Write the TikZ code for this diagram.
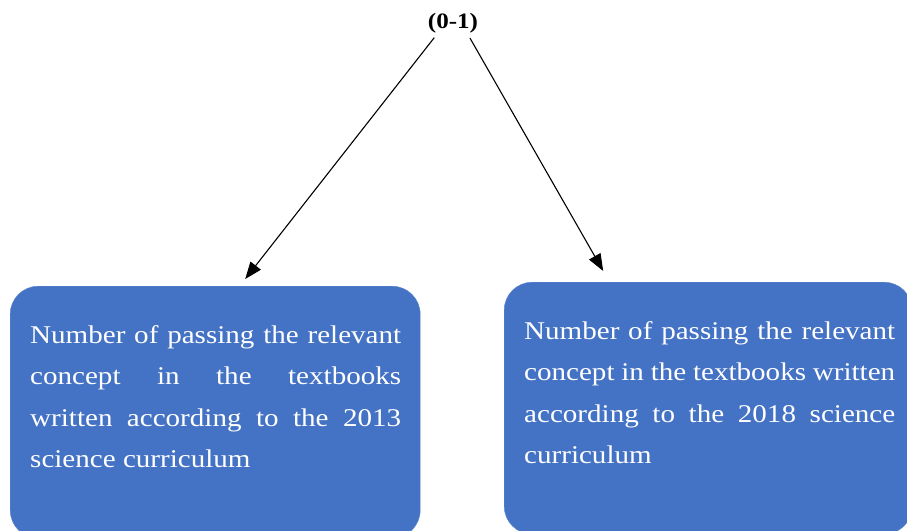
\documentclass[tikz,border=0pt]{standalone}
\usepackage{fontspec}
\setmainfont{Liberation Serif}[FakeStretch=1.14]
\usetikzlibrary{arrows.meta,positioning}
\definecolor{boxblue}{HTML}{4472C4}

\begin{document}
\begin{tikzpicture}[
    x=1pt, y=-1pt,
    title node/.style={font=\bfseries\fontsize{22}{26}\selectfont, inner sep=0pt, anchor=base},
    concept box/.style={fill=boxblue, draw=boxblue!85!white, rounded corners=28pt, minimum height=252pt, anchor=north west},
    concept text/.style={text=white, text width=371pt, align=justify, inner sep=0pt, anchor=base west, font=\fontsize{25.5}{41.5}\selectfont},
    link arrow/.style={-{Triangle[length=17pt,width=13pt]}, line width=1.1pt, shorten <=6pt}
]

%================FRAME================
\useasboundingbox (0,0) rectangle (907,530);
\clip (0,0) rectangle (907,530);
%=====================================

% --- 1. Title ---
\node[title node] (title) at (453,28) {(0-1)};

% --- 2. Boxes ---
\node[concept box, minimum width=410pt] (box2013) at (10,286) {};
\node[concept box, minimum width=408pt] (box2018) at (504,282) {};

% --- 3. Box texts ---
\node[concept text] (txt2013) at ([xshift=20pt,yshift=-57pt]box2013.north west)
    {Number of passing the relevant\linebreak concept in the textbooks\linebreak written according to the 2013\linebreak science curriculum};
\node[concept text] (txt2018) at ([xshift=20pt,yshift=-57pt]box2018.north west)
    {Number of passing the relevant\linebreak concept in the textbooks written\linebreak according to the 2018 science\linebreak curriculum};

% --- 4. Arrows ---
\draw[link arrow] ([xshift=-15pt]title.south) -- ([xshift=30pt,yshift=7pt]box2013.north);
\draw[link arrow] ([xshift=14pt]title.south) -- ([xshift=-105pt,yshift=11pt]box2018.north);

\end{tikzpicture}
\end{document}
